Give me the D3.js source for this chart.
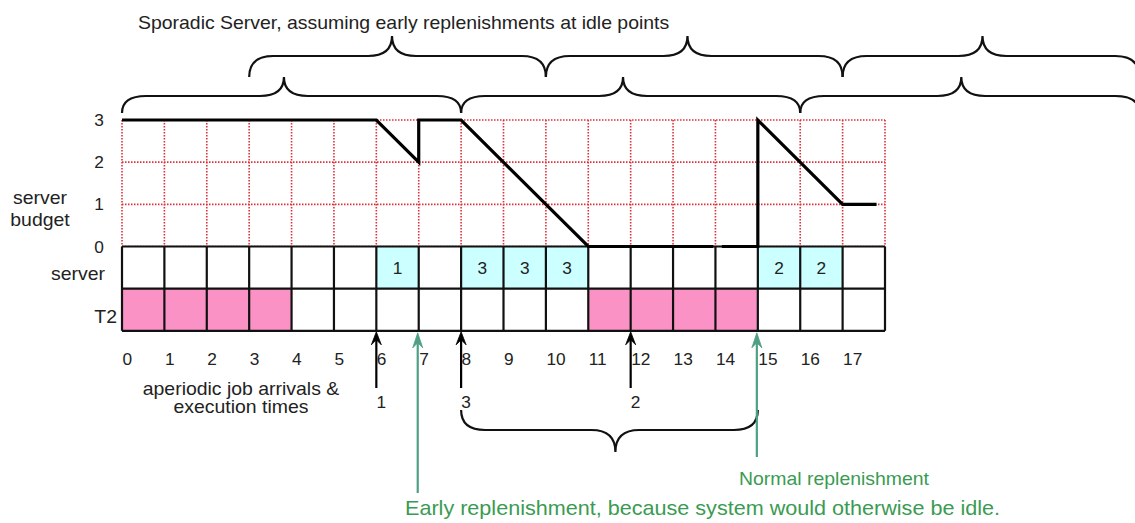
<!DOCTYPE html>
<html><head><meta charset="utf-8">
<script src="https://cdn.jsdelivr.net/npm/d3@7"></script>
<style>body{margin:0;background:#fff}svg{display:block}text{font-family:"Liberation Sans",Arial,Helvetica,sans-serif}</style>
</head><body><svg id="c" width="1135" height="523"></svg>
<script>
// ---- data ----
const timeTicks = d3.range(18);
const tickLabels = ["0","1","2","3","4","5","6","7","8","9","10","11","12","13","14","15","16","17"];
const budgetTicks = [0, 1, 2, 3];
const budgetSegA = [[0,3],[6,3],[7,2],[7,3],[8,3],[11,0],[13.95,0]];
const budgetSegB = [[14.15,0],[15,0],[15,3],[17,1],[17.8,1]];
const serverSlots = [6, 8, 9, 10, 15, 16];
const serverLabels = ["1", "3", "3", "3", "2", "2"];
const t2Slots = [0, 1, 2, 3, 11, 12, 13, 14];
const arrivalTimes = [6, 8, 12];
const arrivalExec = ["1", "3", "2"];
const replenTimes = [7, 15];
const replenLabels = ["Early replenishment, because system would otherwise be idle.", "Normal replenishment"];
// braces: [start, end, cusp] in time units
const upperBraces = [[3,10,6.37],[10,17,13.34],[17,24,20.3]];
const lowerBraces = [[0,8,3.82],[8,16,11.82],[16,24,19.8]];
const bottomBraces = [[8,15,11.64]];
const titleText = "Sporadic Server, assuming early replenishments at idle points";

// ---- layout ----
const svg = d3.select("#c");
const x = d3.scaleLinear().domain([0, 18]).range([122, 885]);
const y = d3.scaleLinear().domain([0, 3]).range([246.5, 120]);
const rowH = y(0) - y(1);
const serverTop = y(0), t2Top = y(0) + rowH, t2Bot = y(0) + 2 * rowH;
const SX = 1.08;
const RED = "#e0303a", PINK = "#fa92c6", CYAN = "#ccffff";
const GTXT = "#3a9b52", GARR = "#4f9f85";

function txt(px, py, s, opt = {}) {
  return svg.append("text")
    .attr("transform", `translate(${px},${py}) scale(${SX},1)`)
    .attr("text-anchor", opt.anchor || "start")
    .attr("font-size", opt.size || 18)
    .attr("fill", opt.fill || "#222")
    .text(s);
}

// title
txt(138, 29, titleText, {size: 18});

// braces
function brace(x1, x2, xc, h, e, c, r1, r2, dir) {
  // dir=-1: cusp up, ends down ; dir=+1 : cusp down, ends up
  const d = d3.path();
  d.moveTo(x1, h - dir * e);
  d.quadraticCurveTo(x1, h, x1 + r1, h);
  d.lineTo(xc - r2, h);
  d.quadraticCurveTo(xc, h, xc, h + dir * c);
  d.quadraticCurveTo(xc, h, xc + r2, h);
  d.lineTo(x2 - r1, h);
  d.quadraticCurveTo(x2, h, x2, h - dir * e);
  return d.toString();
}
const braceG = svg.append("g").attr("fill", "none").attr("stroke", "#111").attr("stroke-width", 2.2);
upperBraces.forEach(b => braceG.append("path").attr("d", brace(x(b[0]), x(b[1]), x(b[2]), 56, 21, 20, 24, 24, -1)));
lowerBraces.forEach(b => braceG.append("path").attr("d", brace(x(b[0]), x(b[1]), x(b[2]), 96, 17, 19, 24, 24, -1)));
bottomBraces.forEach(b => braceG.append("path").attr("d", brace(x(b[0]), x(b[1]), x(b[2]), 430, 20, 22, 24, 24, 1)));

// budget grid (red dotted)
const grid = svg.append("g").attr("stroke", RED).attr("stroke-width", 1.6).attr("stroke-dasharray", "1.5,1.5");
budgetTicks.forEach(v => grid.append("line").attr("x1", x(0)).attr("x2", x(18)).attr("y1", y(v)).attr("y2", y(v)));
d3.range(19).forEach(t => grid.append("line").attr("x1", x(t)).attr("x2", x(t)).attr("y1", y(3)).attr("y2", y(0)));

// budget tick labels
budgetTicks.forEach(v => txt(99, y(v) + 6, String(v), {size: 16, anchor: "middle"}));
txt(40, 204, "server", {anchor: "middle"});
txt(40, 226, "budget", {anchor: "middle"});

// server & T2 rows
const rows = svg.append("g");
timeTicks.forEach(t => {
  rows.append("rect").attr("x", x(t)).attr("y", serverTop).attr("width", x(t + 1) - x(t)).attr("height", rowH)
    .attr("fill", serverSlots.includes(t) ? CYAN : "#fff");
  rows.append("rect").attr("x", x(t)).attr("y", t2Top).attr("width", x(t + 1) - x(t)).attr("height", rowH)
    .attr("fill", t2Slots.includes(t) ? PINK : "#fff");
});
const bl = svg.append("g").attr("stroke", "#111").attr("stroke-width", 2.2);
[serverTop, t2Top, t2Bot].forEach(yy => bl.append("line").attr("x1", x(0)).attr("x2", x(18)).attr("y1", yy).attr("y2", yy));
d3.range(19).forEach(t => bl.append("line").attr("x1", x(t)).attr("x2", x(t)).attr("y1", serverTop).attr("y2", t2Bot));
serverSlots.forEach((t, i) => txt((x(t) + x(t + 1)) / 2, serverTop + rowH / 2 + 6, serverLabels[i], {size: 16, anchor: "middle"}));
txt(105, 280, "server", {anchor: "end"});
txt(117, 323, "T2", {anchor: "end"});

// budget line
const line = d3.line().x(d => x(d[0])).y(d => y(d[1]));
[budgetSegA, budgetSegB].forEach(seg => svg.append("path").attr("d", line(seg))
  .attr("fill", "none").attr("stroke", "#000").attr("stroke-width", 3.2).attr("stroke-linejoin", "miter"));

// time tick labels
timeTicks.forEach((t, i) => txt(x(t) + 0.5, 365, tickLabels[i], {size: 16}));
txt(241, 395, "aperiodic job arrivals &", {anchor: "middle"});
txt(241, 413, "execution times", {anchor: "middle"});

// arrows
function arrow(g, px, tip, bottom, col, hw, hl) {
  g.append("line").attr("x1", px).attr("x2", px).attr("y1", tip + 4).attr("y2", bottom)
    .attr("stroke", col).attr("stroke-width", 2.2);
  g.append("path").attr("d", `M${px},${tip}L${px + hw},${tip + hl}L${px},${tip + hl - 5}L${px - hw},${tip + hl}Z`)
    .attr("fill", col).attr("stroke", col).attr("stroke-width", 0.8);
}
const arr = svg.append("g");
arrivalTimes.forEach((t, i) => {
  arrow(arr, x(t), t2Bot + 1, 388, "#000", 5, 13);
  txt(x(t) + 5, 408, arrivalExec[i], {size: 16, anchor: "middle"});
});
const replenBottoms = [493, 457];
replenTimes.forEach((t, i) => arrow(arr, x(t) - 1, t2Bot + 2, replenBottoms[i], GARR, 5, 15));
txt(405, 515, replenLabels[0], {size: 20, fill: GTXT});
txt(739, 485, replenLabels[1], {size: 18, fill: GTXT});
</script></body></html>
